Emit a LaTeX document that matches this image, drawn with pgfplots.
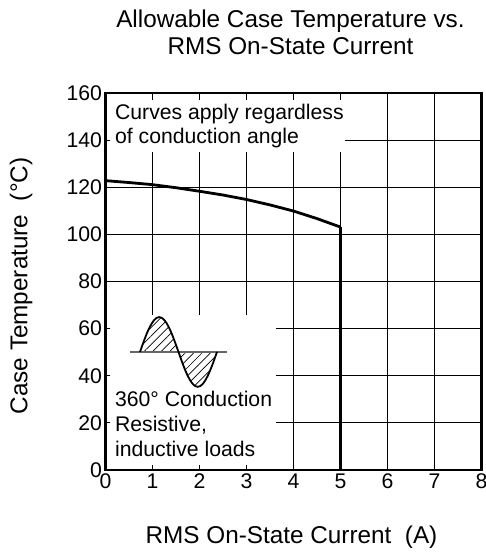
\documentclass[border=0pt]{standalone}
\usepackage{pgfplots}
\pgfplotsset{compat=1.18}
\usepackage{fontspec}
\setmainfont{Liberation Sans}
\usetikzlibrary{patterns.meta}
\tikzset{boxtxt/.style={font=\fontsize{21.2}{24}\selectfont, inner sep=0pt, anchor=base west}}
\begin{document}
\begin{tikzpicture}
\begin{axis}[
  name=ax, at={(0,0)}, anchor=south west,
  scale only axis, width=376pt, height=377pt,
  xmin=0, xmax=8, ymin=0, ymax=160,
  xtick={0,1,...,8}, ytick={0,20,...,160},
  grid=major,
  major grid style={black, line width=0.9pt},
  axis line style={line width=2.5pt},
  tick style={black, line width=0.9pt},
  tick align=inside, major tick length=5pt,
  /pgf/number format/assume math mode=true,
  ticklabel style={font=\fontsize{21.2}{24}\selectfont},
  clip=false,
]
\addplot[black, line width=2.8pt, line join=round] coordinates {
 (0,122.8) (0.5,122.0) (1,121.1) (1.5,119.8) (2,118.3) (2.5,116.7)
 (3,114.8) (3.5,112.5) (4,109.9) (4.5,106.7) (5,103.1)};
\addplot[black, line width=2.8pt] coordinates {(5,103.1) (5,0)};
% white text boxes
\fill[white] (axis cs:0.1,135) rectangle (axis cs:5.09,157);
\fill[white] (axis cs:0.1,2.1) rectangle (axis cs:3.63,65.6);
% sine icon
\fill[pattern={Lines[angle=45,distance=6pt,line width=0.7pt]}]
  (axis cs:0.734,50.1) sin (axis cs:1.1435,64.9) cos (axis cs:1.553,50.1)
  sin (axis cs:1.9625,35.3) cos (axis cs:2.372,50.1) -- cycle;
\draw[black!60, line width=1.4pt] (axis cs:0.52,50.1) -- (axis cs:2.585,50.1);
\draw[black, line width=1.8pt]
  (axis cs:0.734,50.1) sin (axis cs:1.1435,64.9) cos (axis cs:1.553,50.1)
  sin (axis cs:1.9625,35.3) cos (axis cs:2.372,50.1);
% texts
\node[boxtxt] at (axis cs:0.2,148.6) {Curves apply regardless};
\node[boxtxt] at (axis cs:0.2,138.4) {of conduction angle};
\node[boxtxt] at (axis cs:0.2,26.9) {360° Conduction};
\node[boxtxt] at (axis cs:0.2,16.3) {Resistive,};
\node[boxtxt] at (axis cs:0.2,5.9) {inductive loads};
\node[anchor=base, inner sep=0pt, font=\fontsize{24.3}{28}\selectfont] at ([shift={(-3pt,65pt)}]axis description cs:0.5,1) {Allowable Case Temperature vs.};
\node[anchor=base, inner sep=0pt, font=\fontsize{24.3}{28}\selectfont] at ([shift={(-3pt,38pt)}]axis description cs:0.5,1) {RMS On-State Current};
\node[anchor=base, inner sep=0pt, font=\fontsize{24.3}{28}\selectfont] at ([shift={(-2pt,-73pt)}]axis description cs:0.5,0) {RMS On-State Current\ \ (A)};
\node[anchor=base, rotate=90, inner sep=0pt, font=\fontsize{24.3}{28}\selectfont] at ([shift={(-78pt,-4.5pt)}]axis description cs:0,0.5) {Case Temperature\ \ (°C)};
\end{axis}
\pgfresetboundingbox
\path[use as bounding box] ([shift={(-105.5pt,-85pt)}]ax.south west) rectangle ([shift={(380.5pt,470pt)}]ax.south west);
\end{tikzpicture}
\end{document}
